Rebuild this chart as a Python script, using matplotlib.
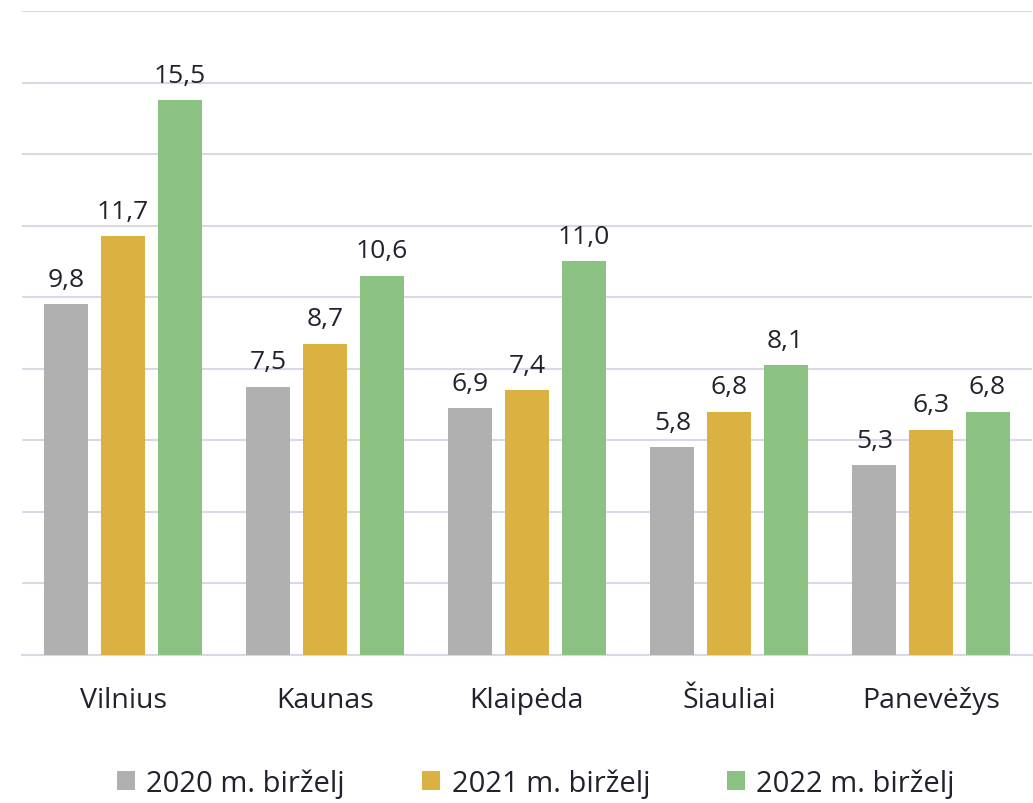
import matplotlib
matplotlib.use("Agg")
import matplotlib.pyplot as plt
import numpy as np

cities = ["Vilnius", "Kaunas", "Klaipėda", "Šiauliai", "Panevėžys"]
series_names = ["2020 m. birželj", "2021 m. birželj", "2022 m. birželj"]
v2020 = [9.8, 7.5, 6.9, 5.8, 5.3]
v2021 = [11.7, 8.7, 7.4, 6.8, 6.3]
v2022 = [15.5, 10.6, 11.0, 8.1, 6.8]
colors = ["#b0b0b0", "#dbb242", "#8bc183"]

plt.rcParams['font.family'] = ['Open Sans', 'DejaVu Sans']
text_color = "#22222e"

fig = plt.figure(figsize=(10.33, 8.04), dpi=100)
ax = fig.add_axes([22/1033, 1-656/804, 1010/1033, (656-12)/804])

x = np.arange(len(cities))
width = 0.218
offset = 0.28
for i, (vals, name, c) in enumerate(zip([v2020, v2021, v2022], series_names, colors)):
    pos = x + (i - 1) * offset
    ax.bar(pos, vals, width, color=c, label=name, zorder=3)
    for p, v in zip(pos, vals):
        ax.text(p, v + 0.35, f"{v:.1f}".replace(".", ","), ha="center", va="bottom",
                fontsize=19, color=text_color)

ax.set_xlim(-0.5, 4.5)
ax.set_ylim(0, 18)
ax.set_yticks(np.arange(0, 19, 2))
ax.yaxis.grid(True, color="#d9d8e6", linewidth=1.5, zorder=0)
ax.tick_params(axis="y", left=False, labelleft=False)
ax.tick_params(axis="x", bottom=False, pad=19, labelsize=20.5, labelcolor=text_color)
ax.set_xticks(x)
ax.set_xticklabels(cities)
for s in ["top", "right", "left"]:
    ax.spines[s].set_visible(False)
ax.spines["bottom"].set_color("#d9d8e6")
ax.spines["bottom"].set_linewidth(1.5)

fig.legend(loc="center", bbox_to_anchor=(0.519, 1 - 784/804), ncol=3,
           frameon=False, fontsize=21, handlelength=0.6, handleheight=0.6,
           handletextpad=0.4, columnspacing=2.65, labelcolor=text_color)

fig.savefig("out.png", dpi=100)
